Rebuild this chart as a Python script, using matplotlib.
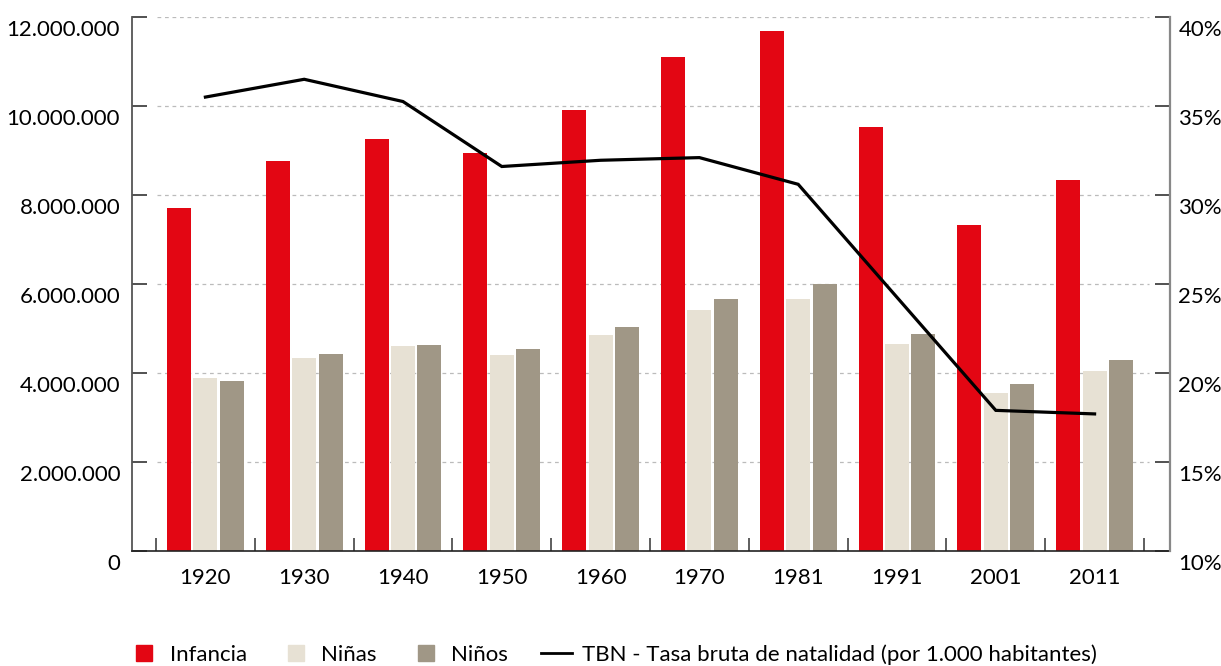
import numpy as np
import matplotlib
matplotlib.use("Agg")
import matplotlib.pyplot as plt
from matplotlib.lines import Line2D
from matplotlib.transforms import ScaledTranslation

plt.rcParams["font.family"] = ["Lato", "DejaVu Sans"]

# ── Data ─────────────────────────────────────────────────────────────────────
years = ["1920", "1930", "1940", "1950", "1960", "1970", "1981", "1991", "2001", "2011"]
infancia = [7710000, 8760000, 9260000, 8940000, 9910000, 11100000, 11690000, 9530000, 7320000, 8340000]
ninas = [3890000, 4340000, 4610000, 4400000, 4850000, 5420000, 5670000, 4650000, 3560000, 4050000]
ninos = [3820000, 4430000, 4630000, 4540000, 5040000, 5670000, 6000000, 4880000, 3760000, 4290000]
tbn = [35.5, 36.5, 35.25, 31.6, 31.95, 32.1, 30.6, 24.25, 17.9, 17.7]

left_ticks = [0, 2000000, 4000000, 6000000, 8000000, 10000000, 12000000]
right_ticks = [10, 15, 20, 25, 30, 35, 40]

RED = "#E30613"
BEIGE = "#E7E1D4"
TAUPE = "#A09786"
FS = 16

fig = plt.figure(figsize=(12.21, 6.66), dpi=100)
ax = fig.add_axes([0.1081, 0.1727, 0.8501, 0.8018])

x = np.arange(len(years))
w = 0.243
step = 0.268
ax.bar(x - step, infancia, w, color=RED, zorder=2)
ax.bar(x, ninas, w, color=BEIGE, zorder=2)
ax.bar(x + step, ninos, w, color=TAUPE, zorder=2)

# dashed grid lines (only across the category band)
ax.hlines(left_ticks[1:], -0.49, 9.55, colors="#BBBBBB", linestyles=(0, (3, 3)),
          linewidth=0.9, zorder=1)

ax.set_xlim(-0.743, 9.763)
ax.set_ylim(0, 12000000)
ax.set_xticks(x)
ax.set_xticklabels(years, fontsize=FS)
ax.set_xticks(np.arange(-0.5, len(years), 1), minor=True)
ax.tick_params(axis="x", which="major", length=0, pad=12)
ax.tick_params(axis="x", which="minor", direction="in", length=9.5, width=1.1, color="#333333")

ax.set_yticks(left_ticks)
ax.set_yticklabels([f"{v:,}".replace(",", ".") for v in left_ticks], fontsize=FS)
ax.tick_params(axis="y", direction="in", length=11, width=1.1, pad=8.5, color="#222222")

for s in ["top", "right"]:
    ax.spines[s].set_visible(False)
ax.spines["left"].set_color("#555555")
ax.spines["left"].set_linewidth(1.3)
ax.spines["bottom"].set_color("#222222")
ax.spines["bottom"].set_linewidth(1.2)

ax2 = ax.twinx()
ax2.plot(x, tbn, color="black", lw=2.3, solid_joinstyle="miter", zorder=3)
ax2.set_ylim(10, 40)
ax2.set_yticks(right_ticks)
ax2.set_yticklabels([f"{v}%" for v in right_ticks], fontsize=FS)
ax2.tick_params(axis="y", direction="in", length=11, width=1.1, pad=6, color="#222222")
for s in ["top", "left", "bottom"]:
    ax2.spines[s].set_visible(False)
ax2.spines["right"].set_color("#888888")
ax2.spines["right"].set_linewidth(1.6)

# tick labels sit a little below their ticks
shift = ScaledTranslation(0, -0.115, fig.dpi_scale_trans)
for lab in ax.get_yticklabels() + ax2.get_yticklabels():
    lab.set_transform(lab.get_transform() + shift)

handles = [
    Line2D([], [], marker="s", ls="", color=RED, markersize=12),
    Line2D([], [], marker="s", ls="", color=BEIGE, markersize=12),
    Line2D([], [], marker="s", ls="", color=TAUPE, markersize=12),
    Line2D([], [], color="black", lw=2),
]
labels = ["Infancia", "Niñas", "Niños", "TBN - Tasa bruta de natalidad (por 1.000 habitantes)"]
fig.legend(handles, labels, loc="lower center", bbox_to_anchor=(0.502, -0.022), ncol=4,
           frameon=False, fontsize=FS, handlelength=1.4, handletextpad=0.45,
           columnspacing=1.5, borderpad=0.2)

fig.savefig("out.png", dpi=100)
